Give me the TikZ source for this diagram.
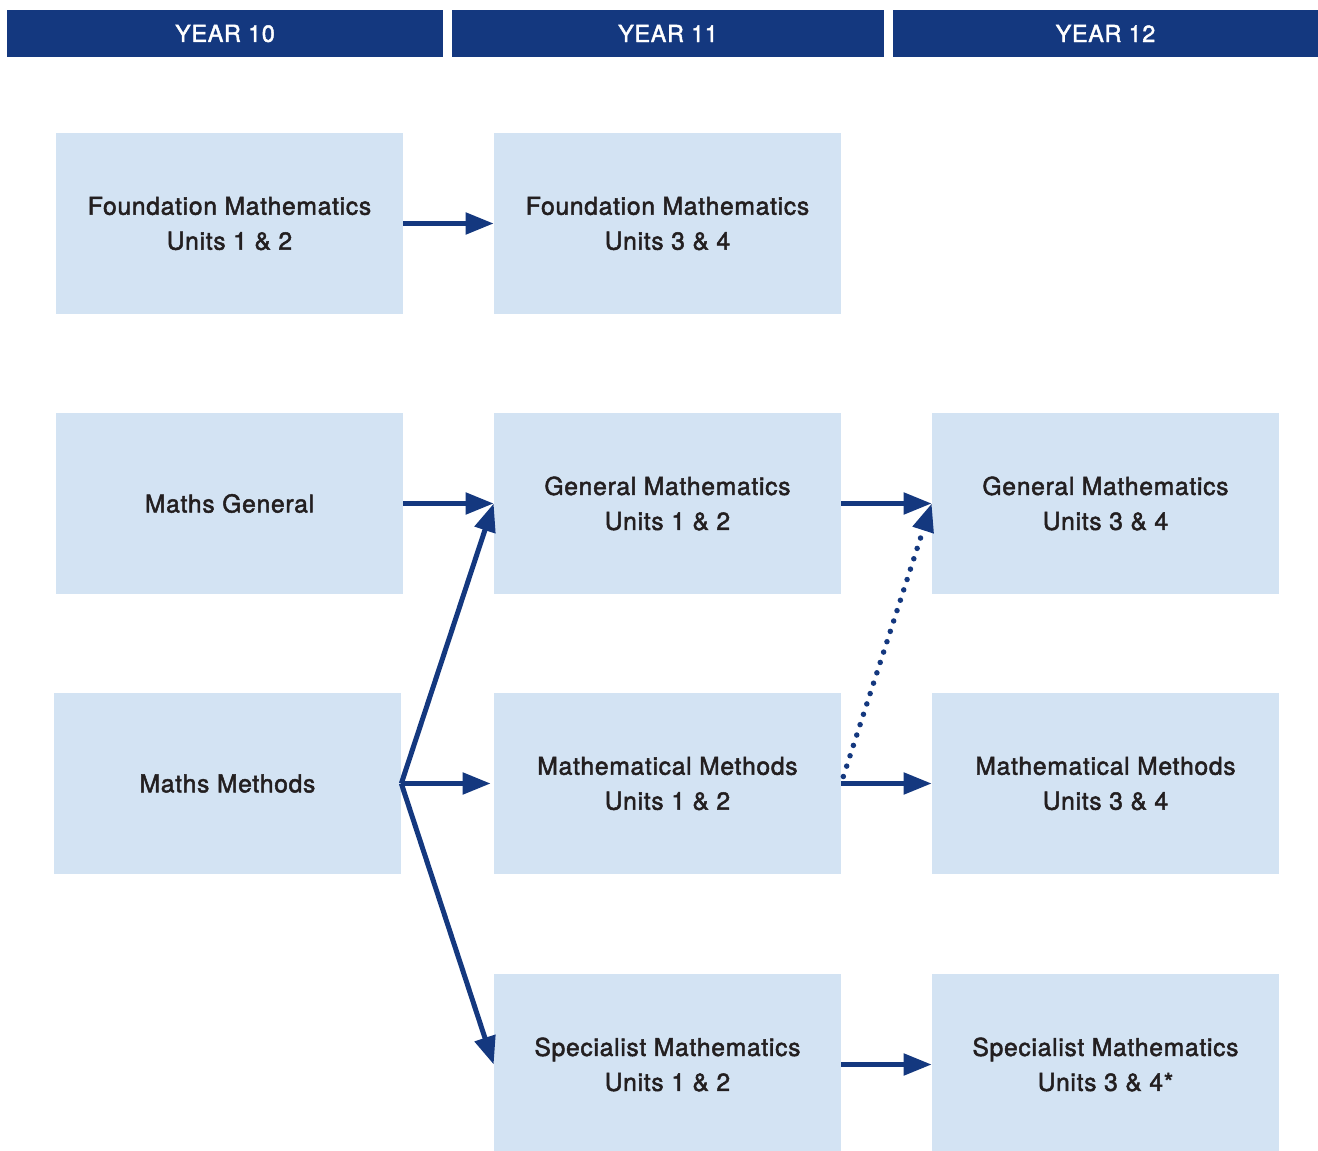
\documentclass[tikz,border=0pt]{standalone}
\usepackage{fontspec}
\setmainfont{TeX Gyre Heros}[FakeBold=2, LetterSpace=3]
\usepackage{tikz}
\usetikzlibrary{arrows.meta, positioning}
\definecolor{navy}{HTML}{14387F}
\definecolor{pale}{HTML}{D3E3F3}
\definecolor{ink}{HTML}{231F20}

\begin{document}
\begin{tikzpicture}[x=0.02cm, y=-0.02cm,
    yearbar/.style={fill=navy, text=white, inner sep=0pt, minimum height=0.94cm,
      font=\fontsize{13.3pt}{15pt}\selectfont},
    unitbox/.style={fill=pale, text=ink, inner sep=0pt, align=center,
      minimum width=6.94cm, minimum height=3.62cm,
      font=\fontsize{14pt}{19.9pt}\selectfont},
    path/.style={draw=navy, line width=0.1cm, -{Triangle[length=0.56cm, width=0.42cm]}},
    maybe/.style={path, line width=0.11cm, line cap=round, dash pattern=on 0pt off 0.218cm}]
        \useasboundingbox (0,0) rectangle (1318,1151);
        % Year bars
        \node[yearbar, minimum width=8.72cm] (y10) at (225,33.5) {YEAR 10};
        \node[yearbar, minimum width=8.64cm] (y11) at (668,33.5) {YEAR 11};
        \node[yearbar, minimum width=8.50cm] (y12) at (1105.5,33.5) {YEAR 12};
        % Year 10
        \node[unitbox] (fm12) at (229.5,223.5) {Foundation Mathematics\\Units 1 \& 2};
        \node[unitbox] (mgen) at (229.5,503.5) {Maths General};
        \node[unitbox] (mmeth) at (227.5,783.5) {Maths Methods};
        % Year 11
        \node[unitbox] (fm34) at (667.5,223.5) {Foundation Mathematics\\Units 3 \& 4};
        \node[unitbox] (gm12) at (667.5,503.5) {General Mathematics\\Units 1 \& 2};
        \node[unitbox] (mm12) at (667.5,783.5) {Mathematical Methods\\Units 1 \& 2};
        \node[unitbox] (sm12) at (667.5,1064.5) {Specialist Mathematics\\Units 1 \& 2};
        % Year 12
        \node[unitbox] (gm34) at (1105.5,503.5) {General Mathematics\\Units 3 \& 4};
        \node[unitbox] (mm34) at (1105.5,783.5) {Mathematical Methods\\Units 3 \& 4};
        \node[unitbox] (sm34) at (1105.5,1064.5) {Specialist Mathematics\\Units 3 \& 4*};
        % Pathways
        \draw[path] (fm12.east) -- (fm34.west);
        \draw[path] (mgen.east) -- (gm12.west);
        \draw[path] (mmeth.east) -- (gm12.west);
        \draw[path] (mmeth.east) -- ([xshift=-0.06cm]mm12.west);
        \draw[path] (mmeth.east) -- (sm12.west);
        \draw[path] (gm12.east) -- (gm34.west);
        \draw[path] (mm12.east) -- (mm34.west);
        \draw[path] (sm12.east) -- (sm34.west);
        \draw[maybe] ([xshift=0.04cm, yshift=0.14cm]mm12.east) -- (gm34.west);
      \end{tikzpicture}
\end{document}
